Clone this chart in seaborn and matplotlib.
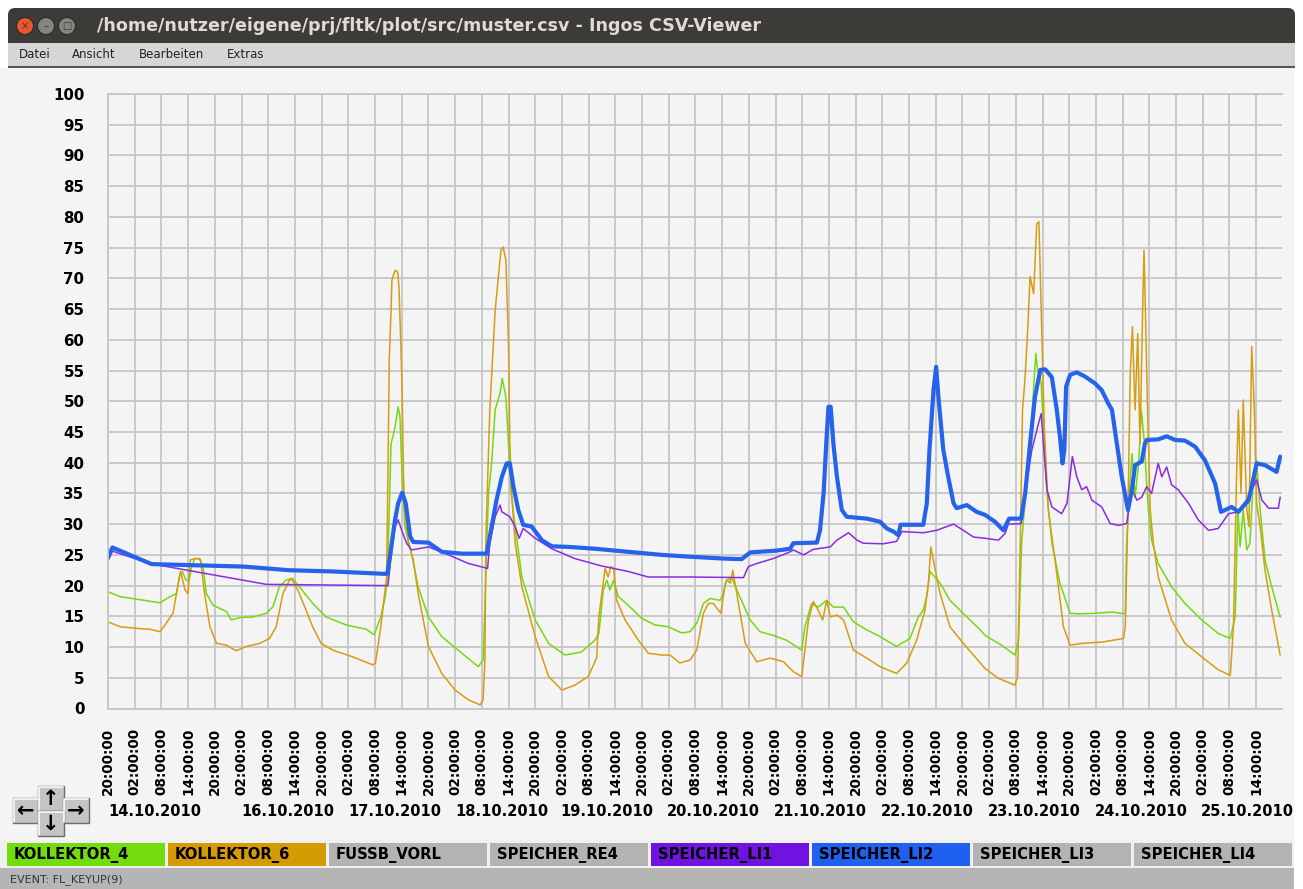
import numpy as np
import pandas as pd
import seaborn as sns
import matplotlib
matplotlib.use("Agg")
import matplotlib.pyplot as plt
from matplotlib.patches import Rectangle, FancyBboxPatch, Circle

sns.set_theme(style="whitegrid")
plt.rcParams['font.family'] = ['DejaVu Sans']

# x = hours since 13.10.2010 20:00, y = temperature
k4_h = [0, 2.7, 6.4, 11.7, 13.9, 15.4, 16.1, 16.7, 17.5, 18.2, 18.8, 19.5, 20.6, 21.4, 22.1, 23.6, 26.6, 27.7, 29.6, 32.6,
        35.6, 37.1, 38.5, 40.0, 41.4, 43.0, 46.0, 49.0, 53.5, 58.0, 59.8, 61.3, 62.3, 62.8, 63.6, 64.0, 64.5, 65.2, 65.6, 66.1,
        66.7, 68.2, 69.7, 72.0, 75.0, 79.5, 83.2, 84.3, 84.9, 85.5, 86.2, 87.0, 88.1, 88.6, 89.4, 90.0, 90.6, 91.5, 93.0, 96.0,
        99.0, 102.7, 106.4, 109.4, 110.3, 111.3, 112.1, 112.8, 113.6, 114.7, 116.9, 119.9, 122.9, 125.9, 128.9, 130.8, 132.3, 133.8, 135.3, 137.5,
        138.3, 139.0, 140.2, 141.3, 144.3, 146.5, 149.5, 152.5, 155.9, 156.6, 158.1, 159.6, 161.5, 163.0, 165.3, 167.5, 170.5, 173.5, 177.2, 180.2,
        182.1, 183.2, 184.1, 184.7, 187.0, 189.2, 193.0, 196.0, 197.1, 200.8, 203.8, 204.6, 205.3, 206.5, 207.6, 208.5, 208.9, 209.7, 210.4, 211.0,
        212.1, 213.9, 216.2, 218.1, 221.8, 225.6, 228.6, 228.9, 229.5, 230.1, 230.8, 231.6, 232.2, 232.9, 233.4, 233.8, 234.5, 236.0, 239.0, 242.0,
        245.8, 249.5, 252.2, 253.3, 253.9, 254.4, 255.1, 255.9, 256.6, 257.4, 258.1, 258.9, 260.0, 261.5, 263.4]
k4_v = [19.0, 18.2, 17.8, 17.2, 18.2, 18.7, 21.7, 22.3, 20.9, 20.8, 23.1, 24.4, 24.4, 22.8, 18.7, 16.8, 15.8, 14.4, 14.8, 14.9,
        15.5, 16.6, 19.8, 20.9, 21.2, 19.8, 17.1, 14.9, 13.6, 12.9, 12.0, 14.9, 18.2, 21.4, 43.1, 44.2, 45.8, 49.1, 47.5, 37.7,
        29.6, 25.2, 19.8, 14.9, 11.7, 9.0, 6.8, 7.9, 21.4, 35.0, 39.9, 48.6, 51.3, 53.7, 50.7, 43.1, 35.0, 29.6, 21.4, 14.4,
        10.6, 8.7, 9.2, 11.1, 12.2, 19.3, 20.9, 19.3, 20.9, 18.2, 16.8, 14.7, 13.6, 13.3, 12.3, 12.5, 13.9, 17.1, 17.9, 17.6,
        18.7, 20.9, 21.2, 19.3, 14.4, 12.5, 11.9, 11.1, 9.5, 13.3, 17.1, 16.5, 17.6, 16.5, 16.5, 14.1, 12.8, 11.7, 10.1, 11.4,
        14.9, 16.0, 18.7, 22.3, 20.4, 17.6, 14.9, 12.8, 11.9, 10.3, 8.7, 11.1, 26.9, 37.7, 47.5, 57.8, 55.1, 52.9, 43.1, 35.0,
        26.9, 20.4, 15.5, 15.4, 15.5, 15.7, 15.4, 26.9, 35.0, 41.5, 34.4, 39.9, 48.6, 43.1, 36.6, 32.3, 27.4, 23.6, 19.8, 17.1,
        14.4, 12.2, 11.4, 14.9, 32.3, 26.3, 32.3, 25.8, 26.9, 37.7, 40.4, 32.3, 24.2, 19.8, 14.9]

k6_h = [0, 2.7, 7.2, 9.4, 11.7, 13.1, 14.6, 15.8, 16.3, 17.3, 18.0, 18.5, 19.9, 20.8, 21.7, 22.9, 24.4, 26.6, 28.8, 31.1,
        34.1, 36.3, 37.8, 39.3, 40.8, 41.5, 43.0, 46.0, 47.9, 50.5, 55.0, 59.5, 60.1, 61.3, 62.6, 62.9, 63.2, 63.6, 63.8, 64.5,
        65.1, 65.4, 65.8, 66.1, 66.4, 66.7, 67.5, 68.6, 69.7, 72.0, 75.0, 78.0, 81.0, 83.6, 84.3, 84.7, 84.9, 85.1, 85.8, 87.0,
        88.3, 88.8, 89.4, 90.0, 90.3, 90.7, 91.5, 93.0, 96.0, 99.0, 102.0, 104.9, 107.9, 109.8, 110.3, 111.7, 112.4, 113.0, 113.6, 114.3,
        116.2, 119.2, 121.4, 124.4, 126.3, 128.5, 130.8, 132.3, 133.8, 134.9, 136.0, 137.7, 138.7, 139.2, 139.8, 140.4, 141.3, 143.2, 145.8, 148.8,
        151.8, 154.0, 155.9, 157.4, 158.5, 159.6, 160.6, 161.5, 162.3, 163.8, 165.3, 167.5, 170.5, 173.5, 177.2, 179.5, 181.7, 183.6, 184.4, 184.9,
        185.9, 187.0, 189.2, 192.2, 196.0, 197.1, 200.1, 203.8, 204.4, 205.0, 205.5, 206.1, 206.7, 207.2, 208.0, 208.7, 209.2, 209.7, 210.4, 211.3,
        212.8, 214.7, 216.2, 218.8, 223.3, 228.2, 228.6, 229.2, 229.7, 230.2, 230.8, 231.4, 231.9, 232.5, 232.8, 233.2, 233.6, 234.2, 234.9, 236.0,
        239.0, 242.0, 245.8, 249.5, 252.2, 252.9, 253.6, 254.0, 254.6, 255.1, 255.9, 256.4, 257.0, 257.6, 258.1, 258.9, 260.0, 261.5, 263.4]
k6_v = [14.1, 13.3, 13.0, 12.9, 12.5, 13.9, 15.5, 20.4, 22.3, 19.3, 18.7, 24.2, 24.4, 24.2, 18.7, 13.3, 10.6, 10.3, 9.4, 10.1,
        10.6, 11.4, 13.3, 18.7, 20.9, 20.9, 18.7, 13.3, 10.6, 9.5, 8.4, 7.1, 7.4, 13.3, 21.4, 37.7, 56.7, 64.8, 69.7, 71.3,
        71.1, 68.3, 59.4, 51.3, 37.7, 32.3, 26.9, 24.2, 18.7, 10.1, 5.7, 3.0, 1.4, 0.6, 1.4, 7.9, 26.9, 32.3, 48.6, 64.8,
        74.6, 75.1, 73.0, 59.4, 43.1, 35.0, 26.9, 19.8, 11.7, 5.2, 3.0, 3.8, 5.2, 8.2, 14.9, 22.8, 21.4, 23.1, 22.8, 17.6,
        14.4, 11.1, 9.0, 8.7, 8.7, 7.4, 7.9, 9.5, 15.5, 17.1, 17.1, 15.5, 20.4, 20.9, 20.4, 22.5, 18.7, 10.6, 7.6, 8.2,
        7.6, 6.0, 5.2, 14.4, 17.4, 16.0, 14.4, 17.6, 14.9, 15.2, 14.4, 9.5, 8.2, 6.8, 5.7, 7.4, 11.1, 16.0, 20.9, 26.3,
        22.5, 18.7, 13.3, 10.6, 7.4, 6.5, 4.9, 3.8, 5.2, 26.9, 48.6, 54.0, 62.1, 70.3, 67.5, 78.9, 79.2, 64.8, 45.8, 32.3,
        24.2, 13.3, 10.3, 10.6, 10.8, 11.4, 13.3, 32.3, 54.0, 62.1, 48.6, 61.0, 43.1, 64.8, 74.6, 62.1, 48.6, 32.3, 26.9, 21.4,
        14.4, 10.6, 8.4, 6.3, 5.4, 13.3, 37.7, 48.6, 35.0, 50.2, 32.3, 29.6, 58.9, 48.6, 33.4, 29.6, 22.5, 16.0, 8.7]

li1_h = [0, 1.0, 9.8, 12.4, 35.6, 62.9, 63.5, 64.5, 65.2, 66.0, 67.1, 68.2, 72.0, 76.5, 81.0, 85.3, 85.8, 87.0, 88.1, 88.5,
         90.3, 91.5, 92.4, 93.3, 96.0, 99.7, 104.9, 110.9, 116.9, 121.4, 130.8, 142.8, 143.9, 145.8, 149.5, 153.3, 154.0, 156.3, 158.5, 162.3,
         163.8, 166.4, 168.3, 169.7, 174.2, 177.2, 178.4, 183.2, 186.2, 190.0, 192.2, 194.5, 197.1, 200.1, 201.6, 202.3, 205.2, 206.1, 207.6, 209.1,
         209.7, 210.2, 211.0, 212.1, 214.3, 215.5, 216.7, 217.7, 218.8, 219.9, 221.1, 223.3, 225.2, 227.1, 228.9, 230.1, 231.2, 232.3, 233.4, 234.5,
         236.0, 236.8, 237.9, 239.0, 240.5, 242.8, 245.0, 247.3, 249.5, 251.8, 254.0, 256.3, 258.1, 259.3, 260.8, 263.0, 263.4]
li1_v = [24.0, 25.6, 23.5, 23.2, 20.2, 20.0, 24.0, 29.6, 30.7, 29.0, 26.9, 25.8, 26.3, 25.0, 23.6, 22.8, 26.9, 31.2, 33.1, 32.0,
         31.2, 29.6, 27.7, 29.3, 27.7, 26.0, 24.4, 23.2, 22.3, 21.4, 21.4, 21.3, 23.1, 23.6, 24.4, 25.5, 25.8, 25.0, 25.9, 26.3,
         27.4, 28.6, 27.4, 26.9, 26.8, 27.2, 28.8, 28.6, 29.0, 30.0, 29.0, 27.9, 27.7, 27.4, 28.5, 30.0, 30.1, 35.0, 42.1, 46.4,
         48.0, 43.1, 35.6, 32.8, 31.7, 33.4, 41.0, 37.7, 35.6, 36.1, 33.9, 32.8, 30.1, 29.8, 30.1, 35.6, 33.9, 34.4, 36.1, 35.0,
         39.9, 37.7, 39.3, 36.4, 35.6, 33.4, 30.7, 29.0, 29.3, 31.7, 32.0, 34.4, 37.2, 33.9, 32.6, 32.6, 34.4]

li2_h = [0, 1.0, 9.8, 30.3, 40.8, 50.5, 62.5, 62.8, 64.5, 65.2, 66.1, 66.9, 67.9, 68.6, 72.0, 75.0, 79.5, 85.1, 86.2, 87.3,
         88.5, 89.6, 90.3, 91.1, 92.2, 93.3, 95.2, 97.5, 99.7, 103.4, 109.4, 116.9, 124.4, 130.8, 138.3, 142.4, 144.3, 150.3, 153.3, 154.0,
         159.3, 160.0, 160.8, 161.4, 161.9, 162.4, 163.0, 163.8, 164.9, 166.0, 170.5, 173.5, 175.0, 176.5, 177.6, 178.1, 183.2, 184.0, 184.6, 185.5,
         186.1, 186.6, 187.7, 188.8, 190.0, 190.7, 193.0, 195.2, 197.1, 199.3, 201.2, 202.5, 205.2, 206.1, 207.2, 208.3, 209.5, 210.6, 212.1, 213.2,
         213.9, 214.5, 214.9, 215.3, 216.2, 217.7, 219.6, 221.8, 223.3, 224.8, 225.6, 226.7, 227.8, 229.2, 230.1, 230.8, 232.3, 233.0, 233.4, 236.0,
         237.9, 239.8, 242.0, 244.3, 246.5, 248.8, 250.1, 252.5, 254.0, 256.3, 257.0, 258.1, 260.0, 262.6, 263.4]
li2_v = [24.7, 26.2, 23.5, 23.1, 22.5, 22.3, 21.9, 22.0, 30.7, 33.4, 35.1, 33.4, 28.0, 27.1, 27.0, 25.5, 25.2, 25.2, 29.6, 33.9,
         37.7, 39.9, 39.9, 36.1, 32.3, 29.9, 29.6, 27.4, 26.4, 26.3, 26.0, 25.5, 25.0, 24.7, 24.4, 24.3, 25.4, 25.7, 26.0, 26.9,
         27.0, 29.0, 35.0, 43.1, 49.1, 49.1, 43.1, 37.7, 32.3, 31.2, 30.9, 30.4, 29.3, 28.8, 28.2, 29.9, 29.9, 33.4, 42.1, 51.8,
         55.6, 50.7, 42.1, 37.7, 33.4, 32.6, 33.1, 32.0, 31.5, 30.4, 29.0, 30.9, 30.9, 35.0, 43.1, 50.7, 55.1, 55.2, 53.9, 48.6,
         44.3, 39.9, 42.1, 52.4, 54.3, 54.7, 54.0, 52.9, 51.8, 49.6, 48.6, 43.1, 37.7, 32.3, 35.6, 39.6, 40.2, 43.1, 43.7, 43.8,
         44.3, 43.7, 43.6, 42.6, 40.4, 36.6, 32.0, 32.8, 32.0, 33.9, 36.1, 39.9, 39.6, 38.5, 41.0]

time_labels = ["20:00:00", "02:00:00", "08:00:00", "14:00:00"]
date_labels = ["14.10.2010", "16.10.2010", "17.10.2010", "18.10.2010", "19.10.2010", "20.10.2010",
               "21.10.2010", "22.10.2010", "23.10.2010", "24.10.2010", "25.10.2010"]
date_pos = [10.6, 40.4, 64.4, 88.5, 112.2, 136.1, 160.1, 184.1, 208.1, 232.1, 256.0]

legend_names = ["KOLLEKTOR_4", "KOLLEKTOR_6", "FUSSB_VORL", "SPEICHER_RE4",
                "SPEICHER_LI1", "SPEICHER_LI2", "SPEICHER_LI3", "SPEICHER_LI4"]
legend_colors = ["#72dc0c", "#d49b04", "#b3b3b3", "#b3b3b3", "#7012e0", "#2060f0", "#b3b3b3", "#b3b3b3"]

W, H = 1303, 889
fig = plt.figure(figsize=(W / 100, H / 100), dpi=100)
fig.patch.set_facecolor("white")

# window chrome
bg = fig.add_axes([0, 0, 1, 1])
bg.set_xlim(0, W)
bg.set_ylim(H, 0)
bg.axis("off")
bg.add_patch(FancyBboxPatch((8, 8), 1287, 50, boxstyle="round,pad=0,rounding_size=7",
                            fc="#3c3b37", ec="none"))
bg.add_patch(Rectangle((8, 43), 1287, 24, fc="#d6d6d6", ec="none"))
bg.add_patch(Rectangle((8, 66), 1287, 1.5, fc="#555555", ec="none"))
bg.add_patch(Rectangle((0, 68), 1294, 772, fc="#f4f4f4", ec="none"))
bg.add_patch(Rectangle((0, 840), 1294, 28, fc="#f0f0f0", ec="none"))
bg.add_patch(Rectangle((0, 868), 1294, 21, fc="#b5b5b5", ec="none"))

for cx, col, sym in [(25, "#e8562a", "×"), (46, "#85847e", "–"), (67, "#85847e", "□")]:
    bg.add_patch(Circle((cx, 26), 8.5, fc=col, ec="#2a2a28", lw=0.8))
    bg.text(cx, 26.5, sym, ha="center", va="center", fontsize=7, color="#3a3a36")
bg.text(97, 26, "/home/nutzer/eigene/prj/fltk/plot/src/muster.csv - Ingos CSV-Viewer",
        ha="left", va="center", fontsize=12.6, fontweight="bold", color="#dfdbd2")
for mx, item in [(19, "Datei"), (72, "Ansicht"), (139, "Bearbeiten"), (227, "Extras")]:
    bg.text(mx, 55, item, ha="left", va="center", fontsize=8.5, color="#222222")

# legend row
for i, (name, col) in enumerate(zip(legend_names, legend_colors)):
    x0 = 7 + i * 161
    bg.add_patch(Rectangle((x0, 843), 158, 22.5, fc=col, ec="none"))
    bg.text(x0 + 7, 855, name, ha="left", va="center", fontsize=10.6, fontweight="bold", color="black")
bg.text(10, 880, "EVENT: FL_KEYUP(9)", ha="left", va="center", fontsize=8, color="#333333")

# navigation buttons
for bx, by, arrow in [(13, 798, "←"), (38, 786, "↑"), (63, 798, "→"), (38, 811, "↓")]:
    bg.add_patch(Rectangle((bx, by), 26, 25, fc="#c4c4c4", ec="#6c6c6c", lw=1))
    bg.plot([bx + 1, bx + 1, bx + 25], [by + 24, by + 1, by + 1], color="white", lw=1.2)
    bg.text(bx + 13, by + 13, arrow, ha="center", va="center", fontsize=15, fontweight="bold", color="black")

# plot area
ax = fig.add_axes([108 / W, 1 - 708.5 / H, (1281.5 - 108) / W, (708.5 - 94) / H])
ax.set_facecolor("#f4f4f4")
series = [(k4_h, k4_v, "#76d813", 1.1), (k6_h, k6_v, "#d69d12", 1.1),
          (li1_h, li1_v, "#8a2be2", 1.1), (li2_h, li2_v, "#2563ea", 3.0)]
for hx, vy, col, lw in series:
    sns.lineplot(x=hx, y=vy, ax=ax, color=col, linewidth=lw, estimator=None, sort=False, legend=False)

ax.set_xlim(0, 263.7)
ax.set_ylim(0, 100)
xt = np.arange(0, 259, 6)
ax.set_xticks(xt)
ax.set_xticklabels([time_labels[i % 4] for i in range(len(xt))], rotation=90,
                   fontweight="bold", fontsize=9.8)
ax.set_yticks(np.arange(0, 101, 5))
ax.set_yticklabels([str(v) for v in range(0, 101, 5)], fontweight="bold", fontsize=10.8)
ax.tick_params(axis="x", length=0, pad=14, colors="black")
ax.tick_params(axis="y", length=0, pad=17, colors="black")
ax.grid(True, color="#c6c6c6", linewidth=1.3)
for side in ["left", "top", "bottom"]:
    ax.spines[side].set_color("#c6c6c6")
    ax.spines[side].set_linewidth(1.3)
ax.spines["right"].set_visible(False)
ax.set_xlabel("")
ax.set_ylabel("")
for p, lab in zip(date_pos, date_labels):
    ax.text(p, -0.167, lab, transform=ax.get_xaxis_transform(), ha="center", va="center",
            fontsize=10.5, fontweight="bold", color="black")

fig.savefig("out.png", dpi=100)
